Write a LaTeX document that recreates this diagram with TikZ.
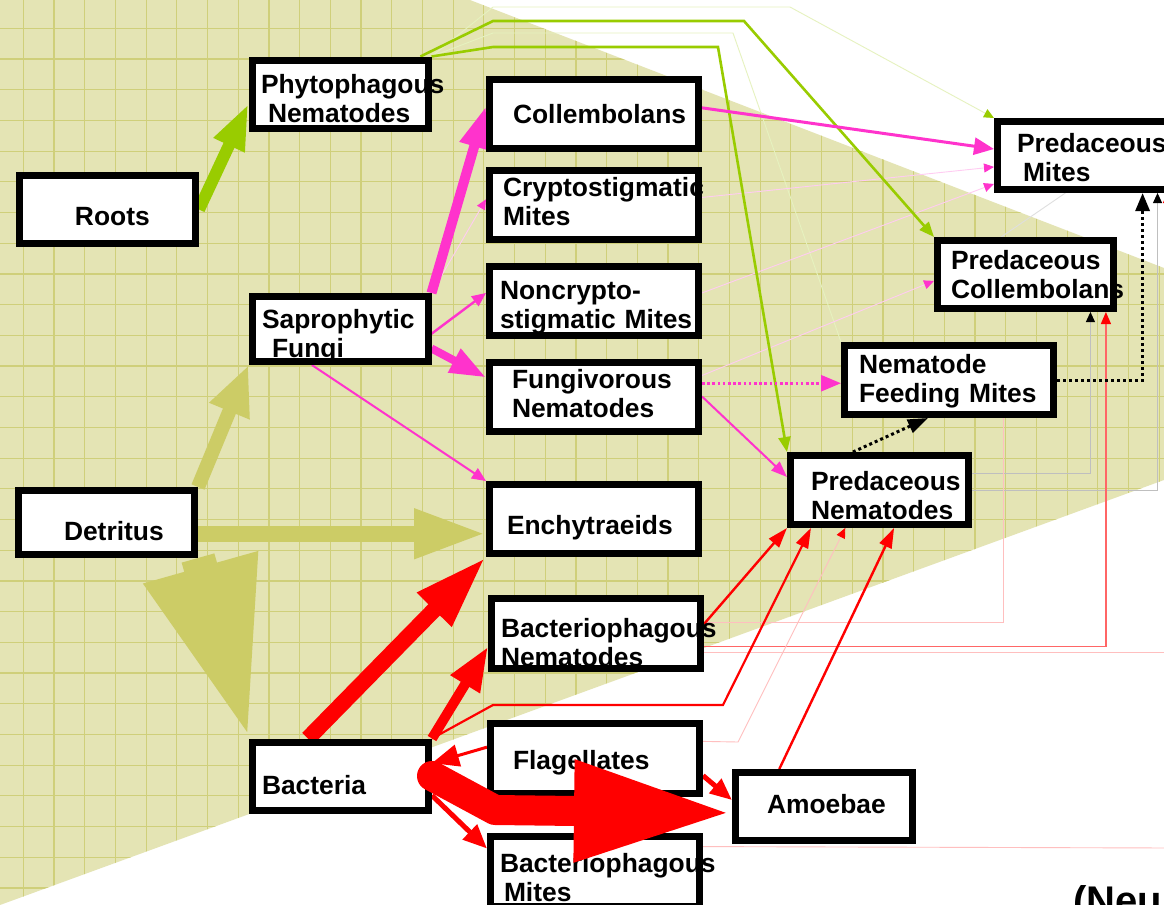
\documentclass[tikz,border=0pt]{standalone}
\usepackage{fontspec}
\setmainfont{Liberation Sans}
\usetikzlibrary{arrows.meta}

\definecolor{leaf}{HTML}{99CC00}
\definecolor{fuchsia}{HTML}{FF33CC}
\definecolor{khaki}{HTML}{CCCC66}
\definecolor{wedgefill}{HTML}{E4E4B4}
\definecolor{wedgegrid}{HTML}{CFCF7A}

\pgfdeclarelayer{back}
\pgfdeclarelayer{links}
\pgfsetlayers{back,links,main}

\tikzset{
  box/.style={draw=black, line width=3.5pt, fill=white, inner sep=0pt, align=left,
    font=\bfseries\fontsize{13.2pt}{14.5pt}\selectfont,
    execute at begin node={\hyphenpenalty=10000}},
  wide/.style={box, minimum width=104.5pt, minimum height=34.5pt},
  narrow/.style={box, minimum width=88pt, minimum height=34pt},
  txt/.style n args={3}{text width=#1, text height=#2, text depth=#3},
  arr/.style 2 args={-{Triangle[length=#1,width=#2]}},
  faint/.style={draw=#1!25, line width=0.45pt, -{Triangle[length=5pt,width=4.5pt,color=#1]}},
  faintline/.style={draw=#1!25, line width=0.45pt},
}

\begin{document}
\begin{tikzpicture}[x=0.5pt, y=-0.5pt]
\useasboundingbox (0,0) rectangle (1164,905);

% boxes
\node[narrow, txt={32.5pt}{16pt}{0pt}] (roots) at (107.5,209.5) {Roots};
\node[narrow, txt={79pt}{14pt}{14.5pt}] (phyto) at (340,94) {Phytophagous\\\hspace*{3.5pt}Nematodes};
\node[narrow, minimum height=32.5pt, txt={78pt}{14pt}{15pt}] (sapro) at (340,329) {Saprophytic\\\hspace*{5pt}Fungi};
\node[narrow, minimum height=32pt, txt={42.5pt}{18pt}{0pt}] (detritus) at (106.5,522.5) {Detritus};
\node[narrow, txt={78.5pt}{18.5pt}{0pt}] (bact) at (340.5,776) {Bacteria};

\node[wide, txt={81pt}{9.5pt}{0pt}] (coll) at (594,113.5) {Collembolans};
\node[wide, txt={91pt}{9.5pt}{18pt}] (crypto) at (594,205) {Cryptostigmatic\\Mites};
\node[wide, txt={94pt}{13.5pt}{14.5pt}] (noncrypto) at (594,300.5) {Noncrypto-\\stigmatic~Mites};
\node[wide, txt={82pt}{9.5pt}{18pt}] (fungiv) at (594,396.5) {Fungivorous\\Nematodes};
\node[wide, txt={87pt}{15.5pt}{0pt}] (enchy) at (594,519) {Enchytraeids};
\node[wide, minimum height=35pt, txt={95pt}{18.5pt}{14.5pt}] (bnem) at (596,633.5) {Bacteriophagous\\Nematodes};
\node[wide, minimum height=35pt, txt={82pt}{11pt}{0pt}] (flag) at (595,758.5) {Flagellates};
\node[wide, minimum height=35pt, txt={95pt}{15pt}{14.5pt}] (bmites) at (595,871.5) {Bacteriophagous\\\hspace*{2pt}Mites};

\node[narrow, minimum width=88.5pt, txt={57pt}{9.5pt}{2.5pt}] (amoeb) at (824,806.5) {Amoebae};
\node[narrow, minimum width=89pt, minimum height=34.5pt, txt={68.5pt}{15pt}{14.5pt}] (pnem) at (879.5,490) {Predaceous\\Nematodes};
\node[wide, txt={90pt}{9.5pt}{16.5pt}] (nfm) at (949,380) {Nematode\\Feeding~Mites};
\node[narrow, txt={74.5pt}{9.5pt}{14.5pt}] (pcoll) at (1025.5,274.5) {Predaceous\\Collembolans};
\node[narrow, minimum width=89.5pt, txt={70pt}{11pt}{14.5pt}] (pmites) at (1087,155.5) {Predaceous\\\hspace*{3pt}Mites};

\node[anchor=base west, font=\bfseries\fontsize{20pt}{24pt}\selectfont] (neu) at (1066,914) {(Neu};
\coordinate (edge) at (1170,848);

% shaded wedge with grid
\begin{pgfonlayer}{back}
  \fill[white] (0,0) rectangle (1164,905);
  \begin{scope}
    \clip (0,0) -- (470,0) -- (1164,268) -- (1164,480) -- (0,905) -- cycle;
    \fill[wedgefill] (0,0) rectangle (1164,905);
    \foreach \gx in {23.3,54,...,1164}
      \draw[wedgegrid, line width=0.6pt] (\gx,0) -- (\gx,905);
    \foreach \gy in {28.3,59,...,905}
      \draw[wedgegrid, line width=0.6pt] (0,\gy) -- (1164,\gy);
  \end{scope}
\end{pgfonlayer}

\begin{pgfonlayer}{links}
  % faint links
  \draw[faint=leaf] (phyto.north east) -- (493,7) -- (790,7) -- (pmites.north west);
  \draw[faintline=leaf] (phyto.north east) -- (493,33) -- (733,33) -- (nfm.north west);
  \draw[faint=fuchsia] (sapro.north east) -- (crypto.177);
  \draw[faint=fuchsia] (crypto.4) -- (pmites.187);
  \draw[faint=fuchsia] (noncrypto.4) -- (pmites.197);
  \draw[faint=fuchsia] (fungiv.11) -- (pcoll.184);
  \draw[faintline=gray] (pcoll.123) -- (pmites.-120);
  \draw[faint=black] (pnem.10) -| (pcoll.-30);
  \draw[faint=black] (pnem.east) -| (pmites.-28);
  \draw[faintline=red] (bnem.6) -| (nfm.-35);
  \draw[draw=red!60, line width=0.6pt, -{Triangle[length=6pt,width=5pt,color=red]}] (bnem.-7) -| (pcoll.-25);
  \draw[faint=red] (bnem.-10) -| (pmites.-25);
  \draw[faint=red] (flag.9) -- (738,742) -- (pnem.-132);
  \draw[faintline=red] (bmites.13) -- (edge);

  % plant and fungal channel
  \draw[leaf, line width=6pt, arr={23pt}{15.5pt}] (roots.east) -- (phyto.186);
  \draw[leaf, line width=1.3pt, arr={7.5pt}{6pt}] (phyto.25) -- (493,21) -- (744,21) -- (pcoll.north west);
  \draw[leaf, line width=1.3pt, arr={7.5pt}{6pt}] (phyto.north east) -- (493,47) -- (718,47) -- (pnem.north west);

  \draw[khaki, line width=7pt, arr={25pt}{20pt}] (detritus.north east) -- (sapro.south west);
  \draw[khaki, line width=8pt, arr={36pt}{23pt}] (detritus.-7) -- (detritus.-7 -| enchy.west);
  \draw[khaki, line width=17pt, arr={89pt}{54.5pt}] (detritus.south east) -- (bact.north west);

  \draw[fuchsia, line width=5pt, arr={21pt}{14pt}] (sapro.north east) -- (coll.176);
  \draw[fuchsia, line width=1.2pt, arr={7pt}{6pt}] (sapro.-3) -- (noncrypto.176);
  \draw[fuchsia, line width=4pt, arr={18pt}{12.5pt}] (sapro.-12) -- (fungiv.170);
  \draw[fuchsia, line width=1pt, arr={7pt}{6pt}] (sapro.-128) -- (enchy.north west);
  \draw[fuchsia, line width=1.5pt, arr={10pt}{8.5pt}] (coll.3) -- (pmites.176);
  \draw[fuchsia, line width=1.3pt, dash pattern=on 1.3pt off 1.3pt, arr={10pt}{8pt}] (fungiv.7) -- (fungiv.7 -| nfm.west);
  \draw[fuchsia, line width=1pt, arr={8pt}{6pt}] (fungiv.east) -- (pnem.172);

  % bacterial channel
  \draw[red, line width=8pt, arr={37pt}{22pt}] (bact.131) -- (enchy.south west);
  \draw[red, line width=5pt, arr={22pt}{16pt}] (bact.north east) -- (bnem.187);
  \draw[red, line width=1.5pt, arr={13.5pt}{11pt}] (flag.174) -- (bact.8);
  \draw[red, line width=2.5pt, arr={12pt}{10pt}] (bact.-12) -- (bmites.168);
  \draw[red, line width=2.5pt, arr={11pt}{9pt}] (flag.-9) -- (amoeb.176);
  \draw[red, line width=1.2pt, arr={10pt}{6.5pt}] (bnem.5) -- (pnem.south west);
  \draw[red, line width=1.1pt, arr={10pt}{6.5pt}] (bact.north east) -- (493,705) -- (723,705) -- (pnem.-151);
  \draw[red, line width=1.2pt, arr={10pt}{6.5pt}] (amoeb.140) -- (pnem.-69);

  % predators
  \draw[black, line width=1.5pt, dash pattern=on 1.5pt off 1.5pt, arr={10pt}{7pt}] (pnem.125) -- (nfm.-119);
  \draw[black, line width=1.5pt, dash pattern=on 1.5pt off 1.5pt, arr={9pt}{7pt}] (nfm.east) -| (pmites.-34);
\end{pgfonlayer}

\draw[red, line width=15pt, line cap=round, line join=round, arr={79pt}{47pt}] (bact.east) -- (495,810) -- (amoeb.184);

\end{tikzpicture}
\end{document}
